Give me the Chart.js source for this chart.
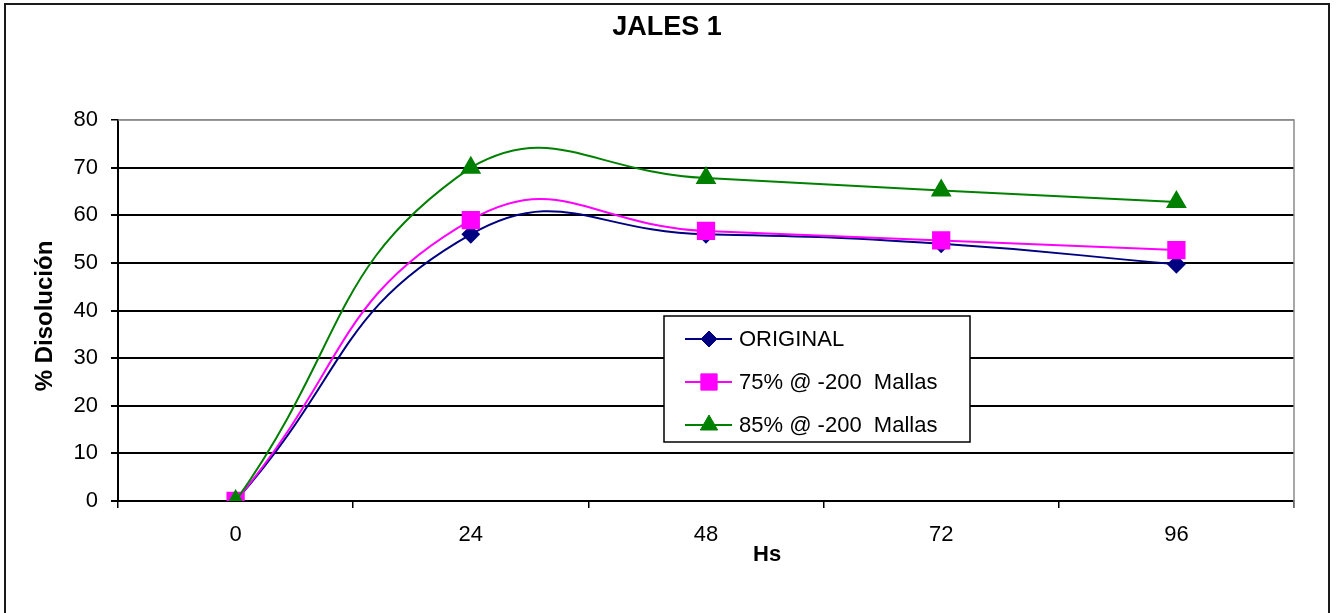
<!DOCTYPE html>
<html>
<head>
<meta charset="utf-8">
<title>JALES 1</title>
<script src="https://cdn.jsdelivr.net/npm/chart.js@4"></script>
<style>
  html, body { margin: 0; padding: 0; background: #fff; }
  #wrap { width: 1336px; height: 613px; }
</style>
</head>
<body>
<div id="wrap"><canvas id="chart" width="1336" height="613"></canvas></div>
<script>
// datos
const horas = ['0', '24', '48', '72', '96'];
const original = [0, 56, 56, 54, 49.7];
const malla75 = [0, 59, 56.7, 54.7, 52.7];
const malla85 = [0, 70, 67.8, 65.2, 62.8];
const yTicks = [0, 10, 20, 30, 40, 50, 60, 70, 80];

const FONT = '"Liberation Sans", Arial, sans-serif';

// marco exterior, borde gris del área y textos fijos
const decor = {
  id: 'decor',
  afterDraw(chart) {
    const ctx = chart.ctx;
    const a = chart.chartArea;
    ctx.save();
    ctx.strokeStyle = '#8c8c8c';
    ctx.lineWidth = 1.5;
    ctx.beginPath();
    ctx.moveTo(a.left, a.top);
    ctx.lineTo(a.right, a.top);
    ctx.lineTo(a.right, a.bottom + 7);
    ctx.stroke();

    ctx.strokeStyle = '#1a1a1a';
    ctx.lineWidth = 2;
    ctx.beginPath();
    ctx.moveTo(5, 620);
    ctx.lineTo(5, 4);
    ctx.lineTo(1329, 4);
    ctx.lineTo(1329, 620);
    ctx.stroke();

    ctx.fillStyle = '#000';
    ctx.textAlign = 'center';
    ctx.textBaseline = 'middle';
    ctx.font = 'bold 27px ' + FONT;
    ctx.fillText('JALES 1', 667, 28);

    ctx.font = 'bold 22px ' + FONT;
    ctx.fillText('Hs', a.left + a.width * 0.552, 555);

    ctx.save();
    ctx.translate(45, 316);
    ctx.rotate(-Math.PI / 2);
    ctx.font = 'bold 24px ' + FONT;
    ctx.fillText('% Disolución', 0, 0);
    ctx.restore();

    // leyenda
    const box = { x: 664, y: 316, w: 306, h: 126 };
    ctx.fillStyle = '#fff';
    ctx.fillRect(box.x, box.y, box.w, box.h);
    ctx.strokeStyle = '#000';
    ctx.lineWidth = 1.5;
    ctx.strokeRect(box.x, box.y, box.w, box.h);
    chart.data.datasets.forEach((ds, i) => {
      const y = 339 + i * 43;
      ctx.strokeStyle = ds.borderColor;
      ctx.lineWidth = 2;
      ctx.beginPath();
      ctx.moveTo(685, y);
      ctx.lineTo(732, y);
      ctx.stroke();
      ctx.fillStyle = ds.pointBackgroundColor;
      ctx.strokeStyle = ds.pointBackgroundColor;
      ctx.lineWidth = 1;
      Chart.helpers.drawPoint(ctx, {
        pointStyle: ds.pointStyle,
        radius: ds.pointRadius,
        borderWidth: 1,
        rotation: 0
      }, 709, y);
      ctx.fillStyle = '#000';
      ctx.textAlign = 'left';
      ctx.font = '22px ' + FONT;
      ctx.fillText(ds.label, 739, y + 1);
    });
    ctx.restore();
  }
};

new Chart(document.getElementById('chart'), {
  type: 'line',
  data: {
    labels: horas,
    datasets: [
      {
        label: 'ORIGINAL',
        data: original,
        borderColor: '#000080',
        pointBackgroundColor: '#000080',
        pointBorderColor: '#000080',
        pointStyle: 'rectRot',
        pointRadius: 8,
        borderWidth: 2,
        tension: 0.48,
        order: 3
      },
      {
        label: '75% @ -200  Mallas',
        data: malla75,
        borderColor: '#ff00ff',
        pointBackgroundColor: '#ff00ff',
        pointBorderColor: '#ff00ff',
        pointStyle: 'rect',
        pointRadius: 11.5,
        borderWidth: 2,
        tension: 0.48,
        order: 2
      },
      {
        label: '85% @ -200  Mallas',
        data: malla85,
        borderColor: '#008000',
        pointBackgroundColor: '#008000',
        pointBorderColor: '#008000',
        pointStyle: 'triangle',
        pointRadius: 10,
        borderWidth: 2,
        tension: 0.48,
        order: 1
      }
    ]
  },
  options: {
    responsive: false,
    animation: false,
    layout: { padding: { top: 120, right: 42, left: 0, bottom: 0 } },
    plugins: {
      legend: { display: false },
      title: { display: false },
      tooltip: { enabled: false }
    },
    scales: {
      x: {
        offset: true,
        afterFit: (s) => { s.height = 112; },
        grid: {
          offset: true,
          drawOnChartArea: false,
          drawTicks: true,
          tickLength: 7,
          color: '#000',
          lineWidth: 1.5
        },
        border: { display: true, color: '#000', width: 2 },
        ticks: {
          color: '#000',
          font: { family: FONT, size: 22 },
          padding: 14
        }
      },
      y: {
        min: 0,
        max: 80,
        afterFit: (s) => { s.width = 118; },
        afterBuildTicks: (s) => { s.ticks = yTicks.map((v) => ({ value: v })); },
        grid: {
          color: (c) => (c.tick && c.tick.value === 80 ? '#8c8c8c' : '#000'),
          lineWidth: (c) => (c.tick && c.tick.value === 80 ? 1.5 : 2),
          tickColor: '#000',
          tickLength: 7,
          drawTicks: true
        },
        border: { display: true, color: '#000', width: 2 },
        ticks: {
          color: '#000',
          font: { family: FONT, size: 22 },
          padding: 13
        }
      }
    }
  },
  plugins: [decor]
});
</script>
</body>
</html>
